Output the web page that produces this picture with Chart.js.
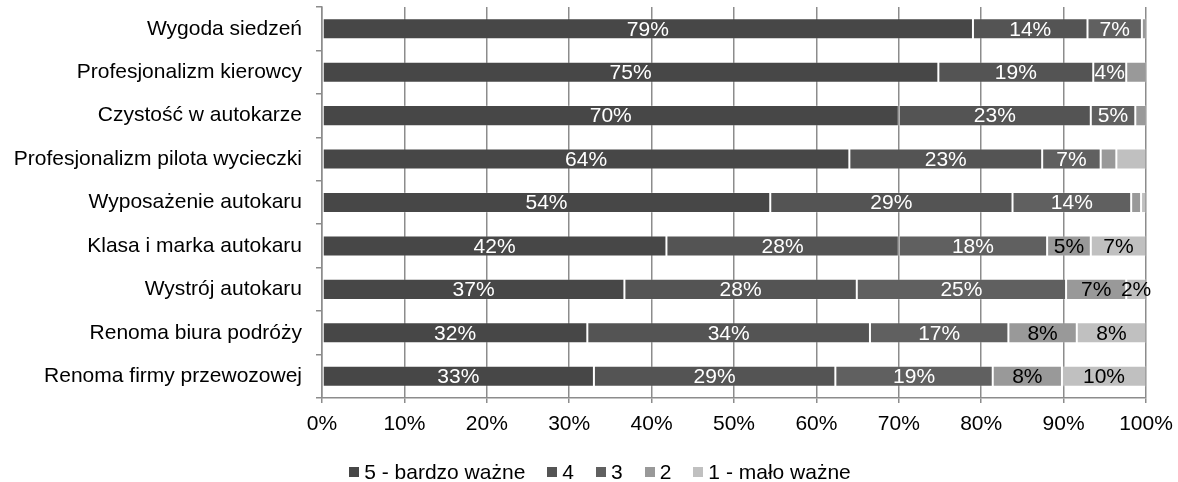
<!DOCTYPE html>
<html>
<head>
<meta charset="utf-8">
<script src="https://cdn.jsdelivr.net/npm/chart.js@4/dist/chart.umd.min.js"></script>
<style>
  html, body { margin: 0; padding: 0; background: #ffffff; }
  #wrap { width: 1178px; height: 482px; }
</style>
</head>
<body>
<div id="wrap"><canvas id="chart" width="1178" height="482"></canvas></div>
<script>
// Categories (top to bottom) and share of answers per rating, in percent
const categories = [
  'Wygoda siedzeń',
  'Profesjonalizm kierowcy',
  'Czystość w autokarze',
  'Profesjonalizm pilota wycieczki',
  'Wyposażenie autokaru',
  'Klasa i marka autokaru',
  'Wystrój autokaru',
  'Renoma biura podróży',
  'Renoma firmy przewozowej'
];
const seriesNames = ['5 - bardzo ważne', '4', '3', '2', '1 - mało ważne'];
const rating5 = [79.0, 74.8, 70.0, 64.0, 54.4, 41.8, 36.7, 32.2, 33.0];
const rating4 = [13.9, 18.8, 23.3, 23.4, 29.4, 28.2, 28.2, 34.3, 29.3];
const rating3 = [6.6, 4.0, 5.4, 7.1, 14.4, 18.0, 25.4, 16.8, 19.1];
const rating2 = [0.5, 2.4, 1.3, 1.9, 1.2, 5.3, 7.3, 8.3, 8.4];
const rating1 = [0.0, 0.0, 0.0, 3.6, 0.6, 6.7, 2.4, 8.4, 10.2];
const xTickValues = [0, 10, 20, 30, 40, 50, 60, 70, 80, 90, 100];

// Small segments get a label only when listed here
const extraLabels = [['1 - mało ważne', 'Wystrój autokaru']];
const minLabelValue = 4;

const seriesValues = [rating5, rating4, rating3, rating2, rating1];
const seriesColors = ['#474747', '#545454', '#606060', '#999999', '#c0c0c0'];
const labelColors = ['#ffffff', '#ffffff', '#ffffff', '#000000', '#000000'];

const FONT = 'Liberation Sans, Arial, Helvetica, sans-serif';
const FONT_SIZE = 21;
const AXIS_GREY = '#8c8c8c';

function showLabel(dsIndex, rowIndex, value) {
  if (value >= minLabelValue) return true;
  return extraLabels.some(([s, c]) => s === seriesNames[dsIndex] && c === categories[rowIndex]);
}

// Percent labels centred inside each segment
const segmentLabels = {
  id: 'segmentLabels',
  afterDatasetsDraw(chart) {
    const ctx = chart.ctx;
    ctx.save();
    ctx.font = FONT_SIZE + 'px ' + FONT;
    ctx.textAlign = 'center';
    ctx.textBaseline = 'middle';
    chart.data.datasets.forEach((ds, di) => {
      const meta = chart.getDatasetMeta(di);
      meta.data.forEach((bar, ri) => {
        const v = ds.data[ri];
        if (!v || !showLabel(di, ri, v)) return;
        const p = bar.getProps(['x', 'y', 'base'], true);
        ctx.fillStyle = labelColors[di];
        ctx.fillText(Math.round(v) + '%', (p.x + p.base) / 2, p.y + 1);
      });
    });
    ctx.restore();
  }
};

// Legend row under the axis: small square + name
const bottomLegend = {
  id: 'bottomLegend',
  afterDraw(chart) {
    const ctx = chart.ctx;
    ctx.save();
    ctx.font = FONT_SIZE + 'px ' + FONT;
    ctx.textBaseline = 'middle';
    ctx.textAlign = 'left';
    const box = 10, gap = 5, spacing = 22;
    const widths = seriesNames.map(n => box + gap + ctx.measureText(n).width);
    const total = widths.reduce((a, b) => a + b, 0) + spacing * (widths.length - 1);
    let x = chart.width / 2 + 11 - total / 2;
    const y = 472;
    seriesNames.forEach((n, i) => {
      ctx.fillStyle = seriesColors[i];
      ctx.fillRect(Math.round(x), y - box / 2, box, box);
      ctx.fillStyle = '#000000';
      ctx.fillText(n, x + box + gap, y + 1);
      x += widths[i] + spacing;
    });
    ctx.restore();
  }
};

new Chart(document.getElementById('chart'), {
  type: 'bar',
  data: {
    labels: categories,
    datasets: seriesNames.map((name, i) => ({
      label: name,
      data: seriesValues[i],
      backgroundColor: seriesColors[i],
      borderColor: 'rgba(255,255,255,0.18)',
      borderWidth: 1,
      borderSkipped: false,
      barPercentage: 0.485,
      categoryPercentage: 1
    }))
  },
  options: {
    indexAxis: 'y',
    responsive: false,
    animation: false,
    layout: { padding: { top: 7, right: 32, bottom: 44, left: 0 } },
    plugins: {
      legend: { display: false },
      tooltip: { enabled: false }
    },
    scales: {
      x: {
        stacked: true,
        min: 0,
        max: 100,
        afterBuildTicks: s => { s.ticks = xTickValues.map(v => ({ value: v })); },
        ticks: {
          callback: v => v + '%',
          color: '#000000',
          font: { family: FONT, size: FONT_SIZE },
          padding: 9,
          maxRotation: 0,
          autoSkip: false
        },
        grid: { color: AXIS_GREY, lineWidth: 1.5, tickLength: 5 },
        border: { color: AXIS_GREY, width: 1.5 },
        afterFit: s => { s.height = 40; s.paddingLeft = 0; s.paddingRight = 0; }
      },
      y: {
        stacked: true,
        ticks: {
          color: '#000000',
          font: { family: FONT, size: FONT_SIZE },
          padding: 14,
          autoSkip: false
        },
        grid: { offset: true, drawOnChartArea: false, tickLength: 6, color: AXIS_GREY, lineWidth: 1.5 },
        border: { color: AXIS_GREY, width: 1.5 },
        afterFit: s => { s.width = 322; s.paddingTop = 0; s.paddingBottom = 0; }
      }
    }
  },
  plugins: [segmentLabels, bottomLegend]
});
</script>
</body>
</html>
